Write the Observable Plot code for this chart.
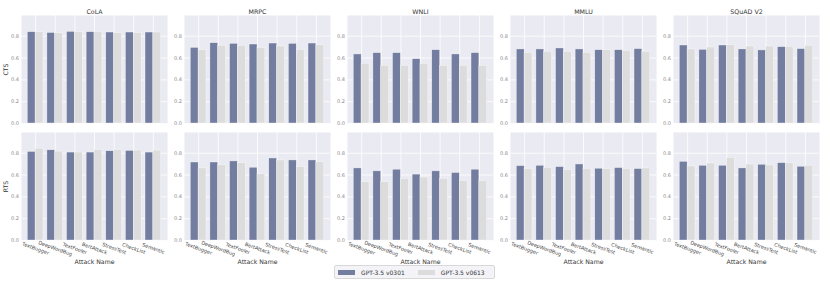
<!DOCTYPE html>
<html>
<head>
<meta charset="utf-8">
<script src="https://cdn.jsdelivr.net/npm/d3@7"></script>
<script src="https://cdn.jsdelivr.net/npm/@observablehq/plot@0.6"></script>
<style>
  body { margin: 0; background: white; }
  #wrap { position: relative; width: 830px; height: 283px; font-family: "DejaVu Sans", sans-serif; }
  #legend { position: absolute; left: 334px; top: 265px; width: 161px; height: 14px; box-sizing: border-box;
    border: 0.6px solid #d8d8d8; border-radius: 2px; background: #f4f4f8; display: flex; align-items: center;
    font-size: 6px; color: #333; }
  .sw { display: inline-block; width: 17px; height: 5px; margin-left: 3px; margin-right: 6px; }
  .it { display: flex; align-items: center; }
</style>
</head>
<body>
<div id="wrap"><div id="chart"></div><div id="legend"></div></div>
<script>
const attacks = ["TextBugger", "DeepWordBug", "TextFooler", "BertAttack", "StressTest", "CheckList", "Semantic"];
const datasets = ["CoLA", "MRPC", "WNLI", "MMLU", "SQuAD V2"];
const metrics = ["CTS", "RTS"];
const models = ["GPT-3.5 v0301", "GPT-3.5 v0613"];
const modelColors = ["#737da0", "#dcdcdc"];
const yTicks = [0, 0.2, 0.4, 0.6, 0.8];

// CTS values, per dataset, per model (order of attacks)
const ctsV0301 = {
  "CoLA":     [0.837, 0.830, 0.840, 0.837, 0.834, 0.834, 0.834],
  "MRPC":     [0.693, 0.736, 0.730, 0.724, 0.733, 0.730, 0.733],
  "WNLI":     [0.633, 0.645, 0.645, 0.590, 0.672, 0.633, 0.645],
  "MMLU":     [0.679, 0.679, 0.688, 0.679, 0.672, 0.672, 0.682],
  "SQuAD V2": [0.715, 0.675, 0.715, 0.679, 0.670, 0.700, 0.682]
};
const ctsV0613 = {
  "CoLA":     [0.837, 0.828, 0.837, 0.837, 0.830, 0.830, 0.834],
  "MRPC":     [0.672, 0.712, 0.712, 0.693, 0.706, 0.675, 0.718],
  "WNLI":     [0.547, 0.529, 0.529, 0.547, 0.529, 0.529, 0.529],
  "MMLU":     [0.648, 0.657, 0.657, 0.648, 0.672, 0.666, 0.657],
  "SQuAD V2": [0.679, 0.697, 0.718, 0.706, 0.706, 0.703, 0.712]
};
// RTS values
const rtsV0301 = {
  "CoLA":     [0.812, 0.827, 0.806, 0.806, 0.818, 0.821, 0.806],
  "MRPC":     [0.715, 0.715, 0.725, 0.667, 0.752, 0.734, 0.734],
  "WNLI":     [0.661, 0.634, 0.649, 0.604, 0.634, 0.619, 0.649],
  "MMLU":     [0.682, 0.685, 0.673, 0.697, 0.658, 0.664, 0.655],
  "SQuAD V2": [0.721, 0.685, 0.685, 0.661, 0.694, 0.709, 0.676]
};
const rtsV0613 = {
  "CoLA":     [0.842, 0.815, 0.806, 0.830, 0.830, 0.824, 0.824],
  "MRPC":     [0.661, 0.691, 0.709, 0.607, 0.734, 0.673, 0.718],
  "WNLI":     [0.534, 0.534, 0.565, 0.577, 0.565, 0.546, 0.546],
  "MMLU":     [0.655, 0.664, 0.646, 0.655, 0.655, 0.655, 0.661],
  "SQuAD V2": [0.679, 0.706, 0.758, 0.697, 0.688, 0.709, 0.685]
};

const series = {
  "CTS": [ctsV0301, ctsV0613],
  "RTS": [rtsV0301, rtsV0613]
};

const rows = [];
for (const metric of metrics) {
  series[metric].forEach((tbl, mi) => {
    for (const ds of datasets) {
      tbl[ds].forEach((v, ai) => {
        rows.push({metric, dataset: ds, model: models[mi], mi, ai, attack: attacks[ai], value: v});
      });
    }
  });
}

const tickRows = datasets.flatMap(ds => attacks.map((a, i) => ({ds, a, i})));
const bw = 0.4;

const chart = Plot.plot({
  width: 830,
  height: 283,
  marginTop: 14,
  marginBottom: 42.3,
  marginLeft: 19.3,
  marginRight: 8.3,
  style: {fontFamily: "DejaVu Sans", background: "white"},
  fx: {domain: datasets, paddingInner: 0.103, paddingOuter: 0, axis: null},
  fy: {domain: metrics, paddingInner: 0.076, paddingOuter: 0, axis: null},
  x: {type: "linear", domain: [-0.72, attacks.length - 1 + 0.72], axis: null},
  y: {domain: [0, 0.99], axis: null},
  color: {domain: models, range: modelColors},
  marks: [
    Plot.frame({fill: "#eaeaf2", facetAnchor: null}),
    Plot.gridY({ticks: yTicks, stroke: "white", strokeOpacity: 1, strokeWidth: 0.8, facetAnchor: null}),
    Plot.gridX({ticks: attacks.map((d, i) => i), stroke: "white", strokeOpacity: 1, strokeWidth: 0.8, facetAnchor: null}),
    Plot.rectY(rows, {
      x1: d => d.ai - bw + d.mi * bw,
      x2: d => d.ai + d.mi * bw,
      y: "value",
      fx: "dataset",
      fy: "metric",
      fill: "model",
      stroke: "white",
      strokeWidth: 0.5,
      strokeOpacity: 0.7
    }),
    Plot.axisY({ticks: yTicks, tickFormat: d3.format(".1f"), tickSize: 0, tickPadding: 2.5, fontSize: 5, color: "#8a8a8a", label: null, facetAnchor: null}),
    Plot.text(tickRows, {
      x: "i", fx: "ds", fy: () => "RTS", text: "a",
      frameAnchor: "bottom", dy: 8, rotate: 20, textAnchor: "middle", lineAnchor: "middle",
      fontSize: 5, fill: "#444"
    }),
    Plot.text(datasets, {
      fx: d => d, fy: () => "RTS", text: () => "Attack Name",
      frameAnchor: "bottom", dy: 21.5, lineAnchor: "middle", fontSize: 6.2, fill: "#333"
    }),
    Plot.text(datasets, {
      fx: d => d, fy: () => "CTS", text: d => d,
      frameAnchor: "top", dy: -4, lineAnchor: "middle", fontSize: 6.3, fill: "#333"
    }),
    Plot.text(metrics, {
      fx: () => datasets[0], fy: d => d, text: d => d,
      frameAnchor: "left", dx: -15, rotate: -90, textAnchor: "middle", lineAnchor: "middle",
      fontSize: 6.2, fill: "#333"
    })
  ]
});
document.getElementById("chart").appendChild(chart);

const legend = document.getElementById("legend");
models.forEach((m, i) => {
  const it = document.createElement("div");
  it.className = "it";
  it.style.marginRight = i === 0 ? "10px" : "0";
  const sw = document.createElement("span");
  sw.className = "sw";
  sw.style.background = modelColors[i];
  it.appendChild(sw);
  const t = document.createElement("span");
  t.textContent = m;
  it.appendChild(t);
  legend.appendChild(it);
});
</script>
</body>
</html>
